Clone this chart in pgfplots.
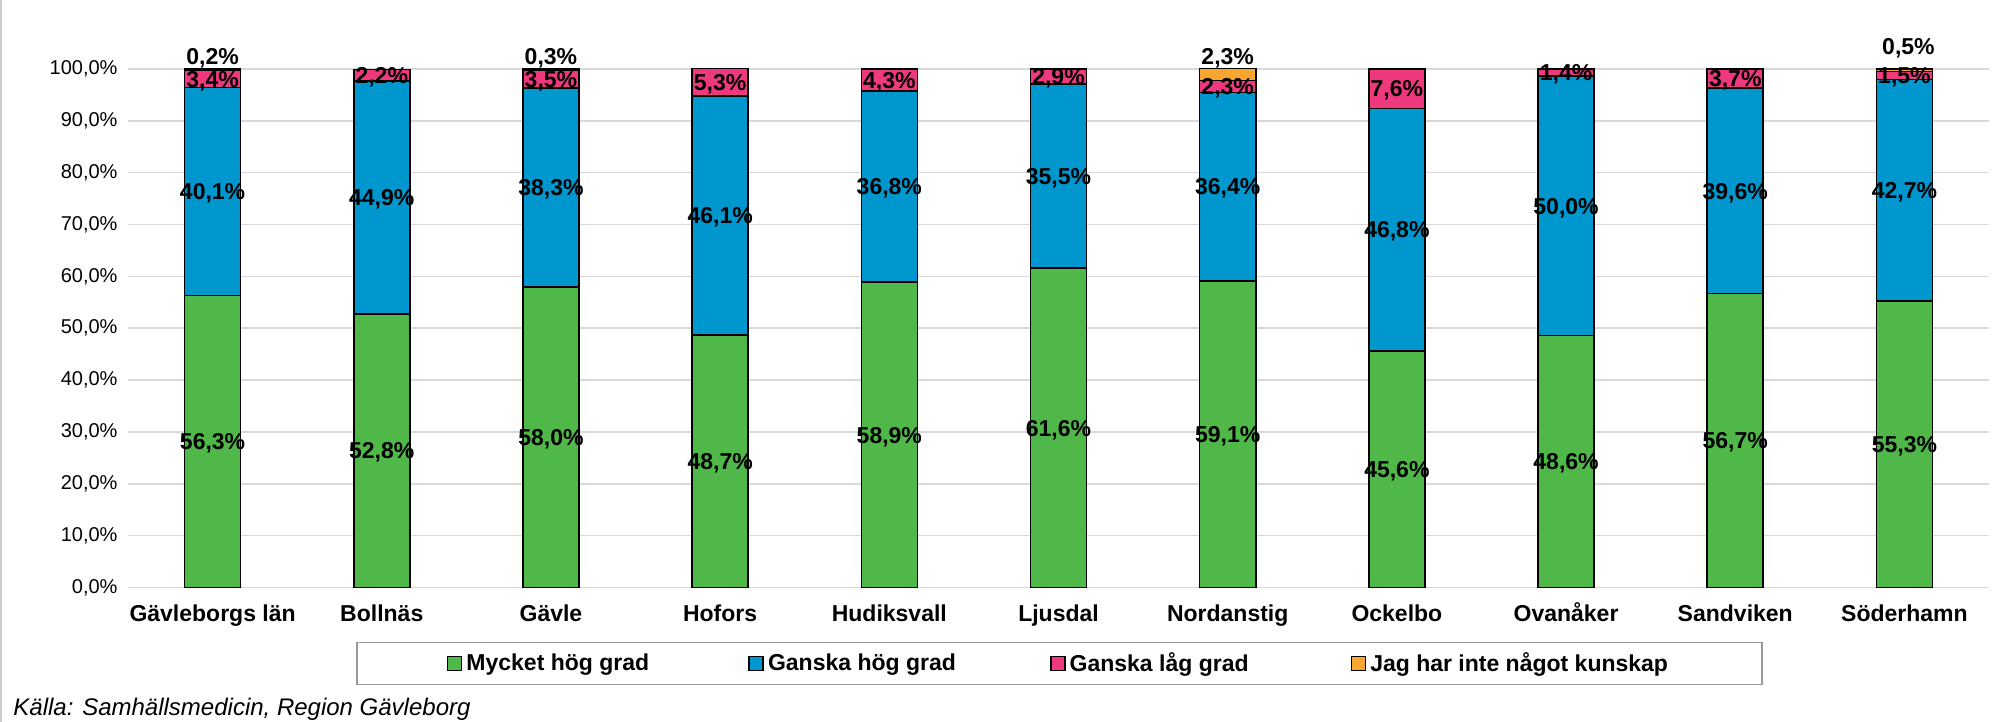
\documentclass[border=0pt]{standalone}
\usepackage{pgfplots}
\pgfplotsset{compat=1.18}
\usepackage{fontspec}
\setmainfont{Liberation Sans}
\definecolor{cgreen}{RGB}{80,184,72}
\definecolor{cblue}{RGB}{0,150,206}
\definecolor{cpink}{RGB}{238,57,127}
\definecolor{corange}{RGB}{247,166,50}
\begin{document}
\begin{tikzpicture}
\path[use as bounding box] (0,0) rectangle (1003pt,361pt);
\draw[black!20, line width=0.75pt] (0.6pt,0) -- (0.6pt,361pt);
\begin{axis}[
  at={(64pt,67.25pt)}, anchor=south west,
  scale only axis, width=930.5pt, height=259.25pt,
  ybar stacked, bar width=28pt,
  xmin=-0.5, xmax=10.5, ymin=0, ymax=100,
  xtick={0,...,10},
  xticklabels={Gävleborgs län, Bollnäs, Gävle, Hofors, Hudiksvall, Ljusdal, Nordanstig, Ockelbo, Ovanåker, Sandviken, Söderhamn},
  ytick={0,10,...,100},
  /pgf/number format/assume math mode=true,
  yticklabel={\pgfmathprintnumber[fixed,fixed zerofill,precision=1,use comma]{\tick}\%},
  ymajorgrids, grid style={draw=black!15, line width=0.75pt},
  axis line style={draw=none},
  major tick length=0pt,
  xticklabel style={font=\bfseries\fontsize{11.5}{13}\selectfont, text height=8.5pt, text depth=2.5pt, yshift=-5pt},
  yticklabel style={font=\fontsize{10}{12}\selectfont, xshift=-1.7pt},
  clip=false,
  every axis plot/.append style={draw=black, line width=0.8pt},
  visualization depends on={rawy \as \rawy},
  mid/.style={nodes near coords={\pgfmathprintnumber[fixed,fixed zerofill,precision=1,use comma]{\rawy}\%},
    every node near coord/.style={anchor=center, inner sep=0pt, yshift=-1pt, font=\bfseries\fontsize{11.5}{13}\selectfont, text=black}},
  legend columns=4,
  legend image code/.code={\draw[#1, line width=0.8pt] (0pt,-3.5pt) rectangle (7pt,3.5pt);},
  legend style={at={(0.5005,-0.1466)}, anchor=center, draw=black!40, line width=0.75pt,
    font=\bfseries\fontsize{11.5}{13}\selectfont, inner xsep=45pt, inner ysep=3pt,
    nodes={inner xsep=2pt}},
  legend cell align=left,
]
\addplot[fill=cgreen, mid] coordinates {(0,56.3) (1,52.8) (2,58.0) (3,48.7) (4,58.9) (5,61.6) (6,59.1) (7,45.6) (8,48.6) (9,56.7) (10,55.3)};
\addlegendentry{\makebox[139pt][l]{Mycket hög grad}}
\addplot[fill=cblue, mid] coordinates {(0,40.1) (1,44.9) (2,38.3) (3,46.1) (4,36.8) (5,35.5) (6,36.4) (7,46.8) (8,50.0) (9,39.6) (10,42.7)};
\addlegendentry{\makebox[139pt][l]{Ganska hög grad}}
\addplot[fill=cpink, mid] coordinates {(0,3.4) (1,2.2) (2,3.5) (3,5.3) (4,4.3) (5,2.9) (6,2.3) (7,7.6) (8,1.4) (9,3.7) (10,1.5)};
\addlegendentry{\makebox[138.5pt][l]{Ganska låg grad}}
\addplot[fill=corange, nodes near coords={\ifdim\rawy pt>0pt\pgfmathprintnumber[fixed,fixed zerofill,precision=1,use comma]{\rawy}\%\fi},
    every node near coord/.style={anchor=base, inner sep=0pt, yshift={2pt+\rawy*1.29625pt+(\rawy==0.5)*5pt}, xshift={(\rawy==0.5)*2pt}, font=\bfseries\fontsize{11.5}{13}\selectfont, text=black}]
  coordinates {(0,0.2) (1,0) (2,0.3) (3,0) (4,0) (5,0) (6,2.3) (7,0) (8,0) (9,0) (10,0.5)};
\addlegendentry{Jag har inte något kunskap}
\end{axis}
\node[anchor=base west, inner sep=0pt, font=\itshape\fontsize{12}{14}\selectfont] at (6.5pt,3pt) {Källa: Samhällsmedicin, Region Gävleborg};
\end{tikzpicture}
\end{document}
